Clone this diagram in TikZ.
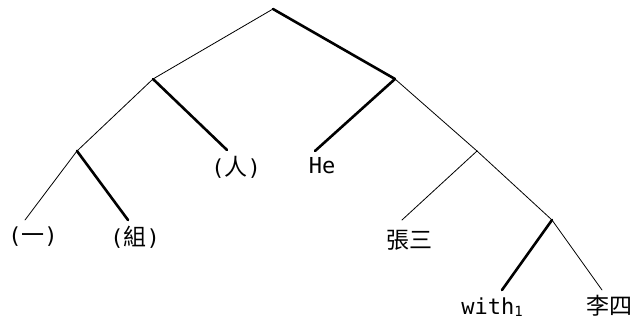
\documentclass[tikz,border=0pt]{standalone}
\usepackage{fontspec}
\newfontfamily\cjk{Noto Sans CJK SC}
\newfontfamily\mono{DejaVu Sans Mono}
\tikzset{
  thin edge/.style={line width=0.8pt, line cap=round},
  thick edge/.style={line width=2.6pt, line cap=round},
  leaf/.style={inner sep=0pt, font=\mono\fontsize{22}{22}\selectfont},
}
\newcommand{\cj}[1]{{\cjk\fontsize{23}{23}\selectfont #1}}
\begin{document}
\begin{tikzpicture}[x=1pt,y=-1pt]
\useasboundingbox[fill=white] (0,0) rectangle (633,320);
% internal nodes
\coordinate (root) at (273,9);
\coordinate (L1) at (153,79);
\coordinate (R1) at (395,79);
\coordinate (LL) at (77,151);
\coordinate (RR) at (477,151);
\coordinate (RRR) at (552,220);
% line ends
\coordinate (e1) at (25,220);
\coordinate (e2) at (128,220);
\coordinate (e3) at (227,150);
\coordinate (e4) at (315,151);
\coordinate (e5) at (402,220);
\coordinate (e6) at (502,290);
\coordinate (e7) at (602,290);
% labels
\node[leaf] (t1) at (33,237) {(\cj{一})};
\node[leaf] (t2) at (135,237) {(\cj{組})};
\node[leaf] (t3) at (236,167) {(\cj{人})};
\node[leaf] (t4) at (322,166) {He};
\node[leaf] (t5) at (409,240) {\cj{張三}};
\node[leaf] (t6) at (492,307) {with\raisebox{-0.15ex}{\fontsize{14}{14}\selectfont 1}};
\node[leaf] (t7) at (609,306) {\cj{李四}};
% edges
\draw[thin edge] (root) -- (L1);
\draw[thick edge] (root) -- (R1);
\draw[thin edge] (L1) -- (LL);
\draw[thick edge] (L1) -- (e3);
\draw[thin edge] (LL) -- (e1);
\draw[thick edge] (LL) -- (e2);
\draw[thick edge] (R1) -- (e4);
\draw[thin edge] (R1) -- (RR);
\draw[thin edge] (RR) -- (e5);
\draw[thin edge] (RR) -- (RRR);
\draw[thick edge] (RRR) -- (e6);
\draw[thin edge] (RRR) -- (e7);
\end{tikzpicture}
\end{document}
